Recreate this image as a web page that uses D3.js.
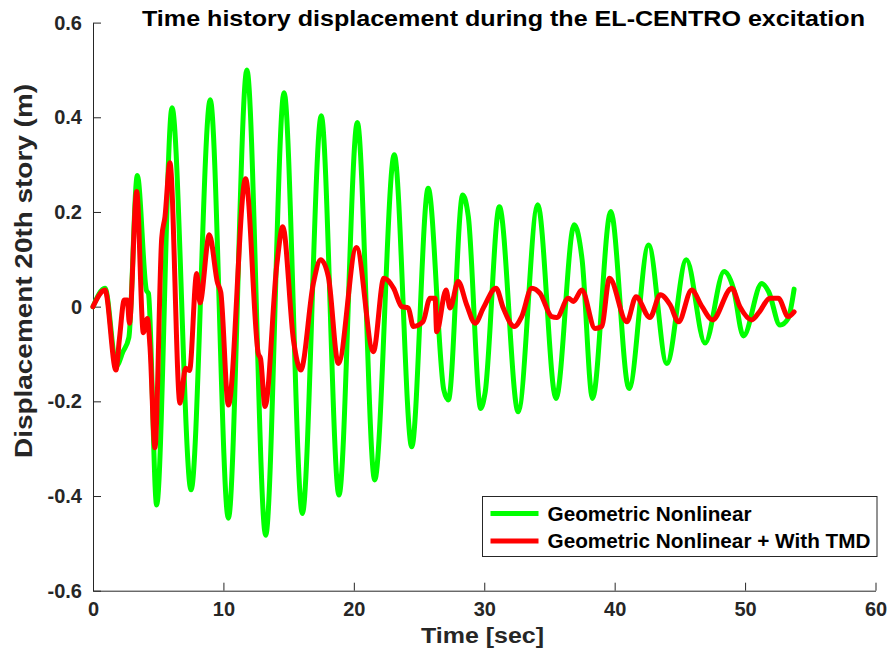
<!DOCTYPE html>
<html>
<head>
<meta charset="utf-8">
<script src="https://cdn.jsdelivr.net/npm/d3@7"></script>
<style>
body { margin: 0; background: #fff; }
text { font-family: "Liberation Sans", Arial, Helvetica, sans-serif; font-weight: bold; }
</style>
</head>
<body>
<svg id="chart" width="893" height="662"></svg>
<script>
// time [sec] and displacement [m]
var greenTime = [0, 0.92, 1.8, 2.3, 2.75, 3.4, 4.1, 4.25, 4.88, 6.06, 7.52, 8.99, 10.38, 11.8, 13.24, 14.65, 16.05, 17.5, 18.86, 20.27,
    21.6, 23.1, 24.44, 25.7, 26.9, 27.25, 28.35, 28.78, 29.73, 30.06, 31.16, 32.6, 34.1, 35.5, 36.9, 37.5, 38.3, 39.7, 41.1,
    42.6, 44.0, 45.5, 46.93, 48.39, 49.1, 49.87, 51.28, 51.8, 52.68, 53.3, 53.76];
var greenDisp = [0, 0.039, -0.125, -0.095, -0.065, 0.277, 0.034, 0.028, -0.419, 0.42, -0.387, 0.437, -0.447, 0.5, -0.483, 0.452, -0.437, 0.403, -0.398, 0.389,
    -0.366, 0.321, -0.296, 0.25, -0.176, -0.197, 0.236, 0.19, -0.215, -0.183, 0.211, -0.222, 0.215, -0.194, 0.173, 0.1, -0.194, 0.201, -0.173,
    0.13, -0.12, 0.099, -0.077, 0.074, 0.039, -0.062, 0.049, 0.032, -0.039, -0.025, 0.037];

var redTime = [0, 0.92, 1.76, 2.02, 2.4, 2.63, 2.79, 3.35, 3.86, 4.17, 4.37, 4.75, 5.27, 5.52, 5.9, 6.67, 7.1, 7.4, 7.95, 8.2,
    8.92, 9.55, 9.8, 10.38, 11.7, 12.68, 12.85, 13.19, 14.1, 14.55, 15.37, 15.93, 16.9, 17.46, 18.05, 18.81, 20.2, 21.5,
    22.3, 23.05, 23.67, 24.18, 24.56, 25.3, 25.84, 26.23, 26.35, 27.07, 27.38, 28.0, 28.65, 29.3, 29.93, 30.9, 31.46,
    32.3, 32.87, 33.64, 34.28, 35.17, 35.56, 36.45, 36.83, 37.48, 38.5, 39.0, 39.6, 40.93, 41.64, 42.7, 43.5, 44.25,
    44.9, 45.9, 46.7, 47.5, 48.98, 49.6, 50.5, 51.1, 51.9, 52.55, 53.3, 53.76];
var redDisp = [0, 0.035, -0.134, -0.07, 0.014, 0.014, -0.035, 0.243, -0.055, -0.025, -0.085, -0.298, 0.145, 0.19, 0.304, -0.204, -0.13, -0.135, 0.07, 0.008,
    0.152, 0.05, 0.03, -0.208, 0.27, -0.1, -0.11, -0.211, 0.09, 0.169, -0.07, -0.134, 0.05, 0.099, 0.063, -0.12, 0.125, -0.095,
    0.06, 0.039, 0.0, -0.003, -0.042, -0.032, 0.018, 0.018, -0.053, 0.035, -0.003, 0.053, 0.004, -0.035, -0.003, 0.039, -0.003,
    -0.042, -0.021, 0.039, 0.028, -0.021, -0.023, 0.018, 0.011, 0.035, -0.046, -0.042, 0.06, -0.032, 0.021, -0.023, 0.025, 0.004,
    -0.032, 0.035, 0.0, -0.028, 0.039, 0.0, -0.028, -0.011, 0.018, 0.018, -0.021, -0.011];

var xTicks = [0, 10, 20, 30, 40, 50, 60];
var yTicks = [-0.6, -0.4, -0.2, 0, 0.2, 0.4, 0.6];
var yTickLabels = ["-0.6", "-0.4", "-0.2", "0", "0.2", "0.4", "0.6"];
var seriesNames = ["Geometric Nonlinear", "Geometric Nonlinear + With TMD"];
var seriesColors = ["#00ff00", "#ff0000"];

var svg = d3.select("#chart");
// note: "top" is taken by window.top, so use plot* names
var plotLeft = 93, plotRight = 875.5, plotTop = 22.6, plotBottom = 590.7;
var axisColor = "#262626";

var x = d3.scaleLinear().domain([0, 60]).range([plotLeft, plotRight]);
var y = d3.scaleLinear().domain([-0.6, 0.6]).range([plotBottom, plotTop]);

function toPoints(ts, vs) {
    return ts.map(function (t, i) {return [t, vs[i]];});
}
var series = [toPoints(greenTime, greenDisp), toPoints(redTime, redDisp)];

// axes, matlab style: ticks pointing inwards, no box
var xAxis = svg.append("g")
    .attr("transform", "translate(0," + plotBottom + ")")
    .call(d3.axisBottom(x).tickValues(xTicks).tickFormat(d3.format("d"))
        .tickSizeInner(-8).tickSizeOuter(0).tickPadding(10));
var yAxis = svg.append("g")
    .attr("transform", "translate(" + plotLeft + ",0)")
    .call(d3.axisLeft(y).tickValues(yTicks).tickFormat(function (d, i) {return yTickLabels[i];})
        .tickSizeInner(-8).tickSizeOuter(0).tickPadding(11));

[xAxis, yAxis].forEach(function (g) {
    g.select(".domain").attr("stroke", axisColor).attr("stroke-width", 1);
    g.selectAll(".tick line").attr("stroke", axisColor).attr("stroke-width", 1);
    g.selectAll(".tick text").attr("fill", axisColor).style("font-size", "20px");
});
xAxis.selectAll(".tick text").attr("dy", "0.75em");

var line = d3.line()
    .x(function (d) {return x(d[0]);})
    .y(function (d) {return y(d[1]);})
    .curve(d3.curveMonotoneX);

svg.append("g").selectAll("path")
    .data(series)
    .join("path")
    .attr("d", line)
    .attr("fill", "none")
    .attr("stroke", function (d, i) {return seriesColors[i];})
    .attr("stroke-width", 5)
    .attr("stroke-linejoin", "round")
    .attr("stroke-linecap", "round");

// title and axis labels
svg.append("text")
    .attr("x", 503.5).attr("y", 26)
    .attr("text-anchor", "middle")
    .attr("textLength", 723).attr("lengthAdjust", "spacingAndGlyphs")
    .style("font-size", "22px")
    .text("Time history displacement during the EL-CENTRO excitation");

svg.append("text")
    .attr("x", 482.5).attr("y", 643)
    .attr("text-anchor", "middle")
    .attr("fill", axisColor)
    .attr("textLength", 123).attr("lengthAdjust", "spacingAndGlyphs")
    .style("font-size", "22px")
    .text("Time [sec]");

svg.append("text")
    .attr("transform", "translate(32,271) rotate(-90)")
    .attr("text-anchor", "middle")
    .attr("fill", axisColor)
    .attr("textLength", 374).attr("lengthAdjust", "spacingAndGlyphs")
    .style("font-size", "23px")
    .text("Displacement 20th story (m)");

// legend
var legend = svg.append("g").attr("transform", "translate(482.5,496.5)");
legend.append("rect")
    .attr("width", 394.5).attr("height", 60)
    .attr("fill", "#fff")
    .attr("stroke", axisColor).attr("stroke-width", 1);
var rows = legend.selectAll("g.row")
    .data(seriesNames)
    .join("g")
    .attr("class", "row")
    .attr("transform", function (d, i) {return "translate(0," + (17 + i * 27.4) + ")";});
rows.append("line")
    .attr("x1", 8).attr("x2", 56)
    .attr("stroke", function (d, i) {return seriesColors[i];})
    .attr("stroke-width", 5);
rows.append("text")
    .attr("x", 65).attr("y", 7)
    .attr("textLength", function (d, i) {return i === 0 ? 204 : 323;})
    .attr("lengthAdjust", "spacingAndGlyphs")
    .style("font-size", "19.5px")
    .text(function (d) {return d;});
</script>
</body>
</html>
